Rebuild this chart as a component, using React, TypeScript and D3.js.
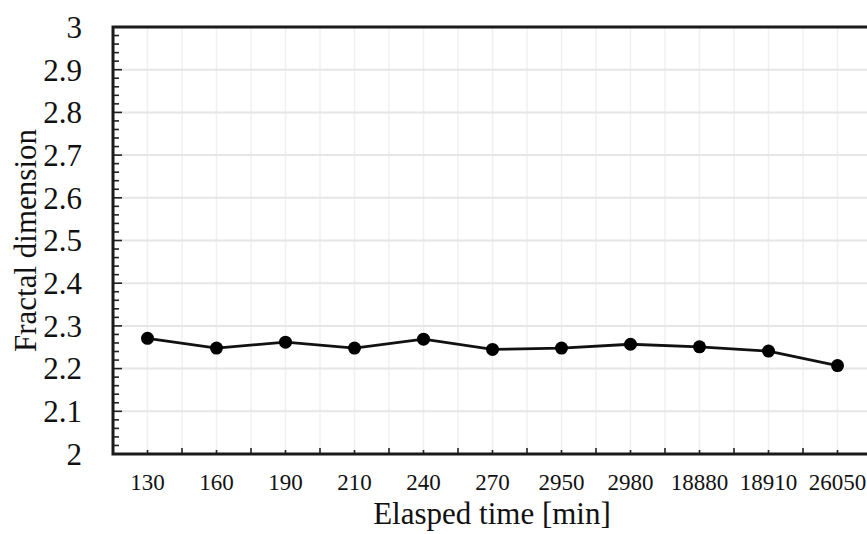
import * as d3 from 'd3';
import { useEffect, useRef } from 'react';

const categories = ['130', '160', '190', '210', '240', '270', '2950', '2980', '18880', '18910', '26050'];
const fractalValues = [2.271, 2.248, 2.262, 2.248, 2.269, 2.245, 2.248, 2.257, 2.251, 2.241, 2.207];
const yTicks = [2, 2.1, 2.2, 2.3, 2.4, 2.5, 2.6, 2.7, 2.8, 2.9, 3];

const FractalChart = ({ width = 867, height = 534 }) => {
  const ref = useRef<SVGSVGElement>(null);

  useEffect(() => {
    const svg = d3.select(ref.current);
    svg.selectAll('*').remove();

    const margin = { top: 27, left: 113 };
    const plotRight = 872;
    const plotBottom = 454;
    const innerWidth = plotRight - margin.left;
    const innerHeight = plotBottom - margin.top;
    const font = '"Liberation Serif", "Times New Roman", serif';

    const x = d3.scaleBand().domain(categories).range([0, innerWidth]).paddingInner(0).paddingOuter(0);
    const y = d3.scaleLinear().domain([2, 3]).range([innerHeight, 0]);
    const cx = (c: string) => (x(c) as number) + x.bandwidth() / 2;

    const g = svg.append('g').attr('transform', `translate(${margin.left},${margin.top})`);

    // vertical grid at every half category
    const halfSteps: number[] = [];
    categories.forEach(c => {
      halfSteps.push(x(c) as number);
      halfSteps.push(cx(c));
    });
    halfSteps.push(innerWidth);

    g.append('g').selectAll('line')
      .data(halfSteps.slice(1))
      .enter()
      .append('line')
      .attr('x1', d => d).attr('x2', d => d)
      .attr('y1', 0).attr('y2', innerHeight)
      .attr('stroke', '#f0f0f0')
      .attr('stroke-width', 1.5);

    g.append('g').selectAll('line')
      .data(yTicks.slice(1, -1))
      .enter()
      .append('line')
      .attr('x1', 0).attr('x2', innerWidth)
      .attr('y1', d => y(d)).attr('y2', d => y(d))
      .attr('stroke', '#e6e6e6')
      .attr('stroke-width', 2);

    // y minor/major ticks (inside)
    const yMinor = d3.range(0, 51).map(i => 2 + i * 0.02);
    g.append('g').selectAll('line')
      .data(yMinor)
      .enter()
      .append('line')
      .attr('x1', 0)
      .attr('x2', (d, i) => (i % 5 === 0 ? 9 : 6))
      .attr('y1', d => y(d)).attr('y2', d => y(d))
      .attr('stroke', '#222')
      .attr('stroke-width', 1.6);

    // x ticks (inside)
    g.append('g').selectAll('line')
      .data(halfSteps.slice(1))
      .enter()
      .append('line')
      .attr('x1', d => d).attr('x2', d => d)
      .attr('y1', innerHeight)
      .attr('y2', (d, i) => innerHeight - (i % 2 === 1 ? 6 : 4))
      .attr('stroke', '#222')
      .attr('stroke-width', 1.6);

    // frame
    g.append('path')
      .attr('d', `M${innerWidth},0H0V${innerHeight}H${innerWidth}`)
      .attr('fill', 'none')
      .attr('stroke', '#1a1a1a')
      .attr('stroke-width', 3);
    g.append('line')
      .attr('x1', innerWidth).attr('x2', innerWidth)
      .attr('y1', 0).attr('y2', innerHeight)
      .attr('stroke', '#1a1a1a').attr('stroke-width', 3);

    // y tick labels
    g.append('g').selectAll('text')
      .data(yTicks)
      .enter()
      .append('text')
      .attr('x', -31)
      .attr('y', d => y(d))
      .attr('dy', '0.35em')
      .attr('text-anchor', 'end')
      .style('font-family', font)
      .style('font-size', '31px')
      .attr('fill', '#111')
      .text(d => d3.format('~g')(d));

    // x tick labels
    g.append('g').selectAll('text')
      .data(categories)
      .enter()
      .append('text')
      .attr('x', d => cx(d))
      .attr('y', innerHeight + 36)
      .attr('text-anchor', 'middle')
      .style('font-family', font)
      .style('font-size', '23px')
      .attr('fill', '#111')
      .text(d => d);

    // line + markers
    const pts = categories.map((c, i) => ({ c, v: fractalValues[i] }));
    g.append('path')
      .datum(pts)
      .attr('fill', 'none')
      .attr('stroke', '#111')
      .attr('stroke-width', 2.8)
      .attr('d', d3.line<{ c: string; v: number }>().x(d => cx(d.c)).y(d => y(d.v)));

    g.selectAll('circle')
      .data(pts)
      .enter()
      .append('circle')
      .attr('cx', d => cx(d.c))
      .attr('cy', d => y(d.v))
      .attr('r', 6.5)
      .attr('fill', '#000');

    // axis titles
    svg.append('text')
      .attr('x', 492)
      .attr('y', 524)
      .attr('text-anchor', 'middle')
      .style('font-family', font)
      .style('font-size', '31px')
      .attr('fill', '#111')
      .text('Elasped time [min]');

    svg.append('text')
      .attr('transform', `translate(36,${margin.top + innerHeight / 2}) rotate(-90)`)
      .attr('text-anchor', 'middle')
      .style('font-family', font)
      .style('font-size', '31px')
      .attr('fill', '#111')
      .text('Fractal dimension');

    return () => {
      svg.selectAll('*').remove();
    };
  }, []);

  return (
    <svg
      ref={ref}
      width={width}
      height={height}
      style={{ position: 'absolute', left: 0, top: 0, background: '#fff' }}
    />
  );
};

export default function App() {
  return <FractalChart />;
}
